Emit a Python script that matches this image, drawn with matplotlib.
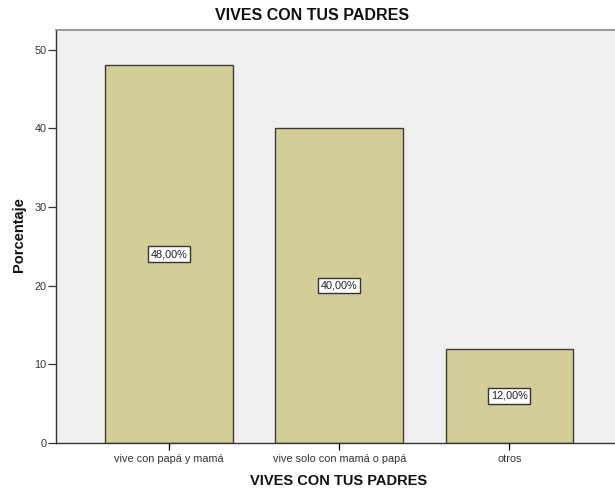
import matplotlib
matplotlib.use("Agg")
import matplotlib.pyplot as plt

categories = ["vive con papá y mamá", "vive solo con mamá o papá", "otros"]
values = [48.0, 40.0, 12.0]
labels = ["48,00%", "40,00%", "12,00%"]
yticks = [0, 10, 20, 30, 40, 50]

W, H = 615, 488
FONT = "Liberation Sans"
fig = plt.figure(figsize=(W/100, H/100), dpi=100)
ax = fig.add_axes([56/W, 1-443/H, (620-56)/W, (443-30)/H])
ax.set_facecolor("#F0F0F0")
x = list(range(len(categories)))
ax.bar(x, values, width=0.75, color="#D3CE97", edgecolor="#3c3c3c", linewidth=1.0)
for xi, v, lab in zip(x, values, labels):
    ax.text(xi, v/2, lab, ha="center", va="center", fontsize=7.8, family=FONT, color="#222222",
            bbox=dict(boxstyle="square,pad=0.25", fc="white", ec="#333333", lw=1.0))
ax.set_xlim(-0.665, 2.65)
ax.set_ylim(0, 52.5)
ax.set_yticks(yticks)
ax.set_xticks(x)
ax.set_xticklabels(categories, fontsize=7.8, family=FONT, color="#333333")
ax.tick_params(axis="y", labelsize=7.8, colors="#333333", length=6, width=0.9, pad=1)
ax.tick_params(axis="x", length=5, width=0.9, pad=3)
for lab in ax.get_yticklabels():
    lab.set_family(FONT)
for s in ["left", "bottom"]:
    ax.spines[s].set_color("#333333")
    ax.spines[s].set_linewidth(1.0)
ax.spines["top"].set_color("#888888")
ax.spines["top"].set_linewidth(1.2)
ax.spines["right"].set_visible(False)
fig.text(312/W, 1-16/H, "VIVES CON TUS PADRES", ha="center", va="center",
         fontsize=11.5, fontweight="bold", family=FONT, color="#111111")
fig.text(339/W, 1-481/H, "VIVES CON TUS PADRES", ha="center", va="center",
         fontsize=10.5, fontweight="bold", family=FONT, color="#111111")
fig.text(19/W, 1-235/H, "Porcentaje", ha="center", va="center", rotation=90,
         fontsize=10.5, fontweight="bold", family=FONT, color="#111111")
fig.savefig("out.png", dpi=100)
